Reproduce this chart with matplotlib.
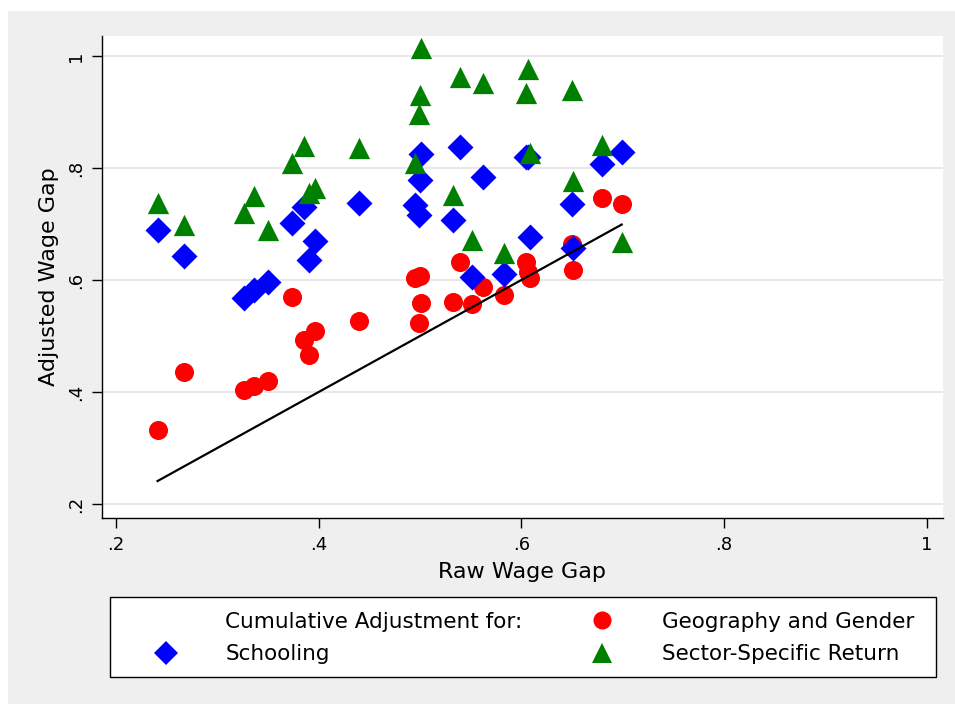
import numpy as np
import matplotlib
matplotlib.use("Agg")
import matplotlib.pyplot as plt
from matplotlib.patches import Rectangle
from matplotlib.lines import Line2D

plt.rcParams["font.family"] = ["DejaVu Sans"]

COR_FUNDO = "#EFEFEF"
COR_GRADE = "#E6E6E6"
COR_VERMELHO = "#FF0000"
COR_AZUL = "#0000FF"
COR_VERDE = "#008000"

# dados
raw_gap = [0.241, 0.267, 0.326, 0.336, 0.350, 0.374, 0.386, 0.390, 0.396,
           0.440, 0.4955, 0.4988, 0.4998, 0.5005, 0.533, 0.5395, 0.551,
           0.562, 0.583, 0.605, 0.607, 0.609, 0.650, 0.651, 0.680, 0.699]

geo_gender = [0.332, 0.436, 0.404, 0.410, 0.420, 0.569, 0.493, 0.466, 0.509,
              0.527, 0.604, 0.524, 0.607, 0.559, 0.560, 0.633, 0.558,
              0.587, 0.573, 0.633, 0.615, 0.603, 0.665, 0.617, 0.746, 0.736]

schooling = [0.689, 0.642, 0.568, 0.582, 0.596, 0.701, 0.731, 0.636, 0.670,
             0.737, 0.734, 0.716, 0.779, 0.825, 0.707, 0.837, 0.605,
             0.784, 0.611, 0.820, 0.820, 0.677, 0.735, 0.658, 0.807, 0.829]

sector = [0.737, 0.698, 0.720, 0.750, 0.690, 0.808, 0.840, 0.755, 0.765,
          0.835, 0.808, 0.896, 0.930, 1.014, 0.751, 0.963, 0.671,
          0.952, 0.649, 0.934, 0.976, 0.826, 0.940, 0.776, 0.841, 0.667]

ticks = [0.2, 0.4, 0.6, 0.8, 1.0]
tick_labels = [".2", ".4", ".6", ".8", "1"]

# figura
fig = plt.figure(figsize=(9.55, 7.04), dpi=100, facecolor="white")
fig.patches.append(Rectangle((8 / 955, 0), 1 - 8 / 955, 1 - 11 / 704,
                             transform=fig.transFigure, facecolor=COR_FUNDO,
                             edgecolor="none", zorder=-10))

ax = fig.add_axes([0.1065, 0.2642, 0.8809, 0.6847])
ax.set_facecolor("white")

ax.scatter(raw_gap, geo_gender, s=188, marker="o", color=COR_VERMELHO,
           linewidths=0, zorder=2)
ax.scatter(raw_gap, schooling, s=175, marker="D", color=COR_AZUL,
           linewidths=0, zorder=3)
ax.scatter(raw_gap, sector, s=235, marker="^", color=COR_VERDE,
           linewidths=0, zorder=4)

# linha de 45 graus
linha = sorted(raw_gap)
ax.plot(linha, linha, color="black", lw=1.6, zorder=5)

ax.set_xlim(0.1859, 1.016)
ax.set_ylim(0.175, 1.0357)

ax.set_xticks(ticks)
ax.set_xticklabels(tick_labels)
ax.set_yticks(ticks)
ax.set_yticklabels(tick_labels, rotation=90, va="center")

ax.tick_params(axis="both", direction="out", length=7, width=1.0,
               labelsize=13, colors="black")
ax.tick_params(axis="x", pad=6)
ax.tick_params(axis="y", pad=5)

ax.yaxis.grid(True, color=COR_GRADE, lw=1.3)
ax.set_axisbelow(True)

for lado in ["top", "right"]:
    ax.spines[lado].set_visible(False)
for lado in ["left", "bottom"]:
    ax.spines[lado].set_linewidth(1.0)
    ax.spines[lado].set_color("black")

ax.set_xlabel("Raw Wage Gap", fontsize=16, labelpad=5.5)
ax.set_ylabel("Adjusted Wage Gap", fontsize=16, labelpad=6)

# caixa da legenda
fig.patches.append(Rectangle((110 / 955, 1 - 677 / 704), 826 / 955, 80 / 704,
                             transform=fig.transFigure, facecolor="white",
                             edgecolor="black", lw=1.0, zorder=1))

vazio = Line2D([], [], linestyle="none")
h_geo = Line2D([], [], linestyle="none", marker="o", markersize=13,
               color=COR_VERMELHO, markeredgewidth=0)
h_sch = Line2D([], [], linestyle="none", marker="D", markersize=12,
               color=COR_AZUL, markeredgewidth=0)
h_sec = Line2D([], [], linestyle="none", marker="^", markersize=14,
               color=COR_VERDE, markeredgewidth=0)

leg = fig.legend(
    [vazio, h_sch, h_geo, h_sec],
    ["Cumulative Adjustment for:", "Schooling",
     "Geography and Gender", "Sector-Specific Return"],
    loc="center left",
    bbox_to_anchor=(144 / 955, 1 - 638 / 704),
    ncol=2,
    fontsize=15.5,
    frameon=False,
    borderpad=0,
    labelspacing=0.6,
    handlelength=2.0,
    handletextpad=1.77,
    columnspacing=2.72,
    borderaxespad=0,
)

plt.savefig("out.png", dpi=100, facecolor="white")
